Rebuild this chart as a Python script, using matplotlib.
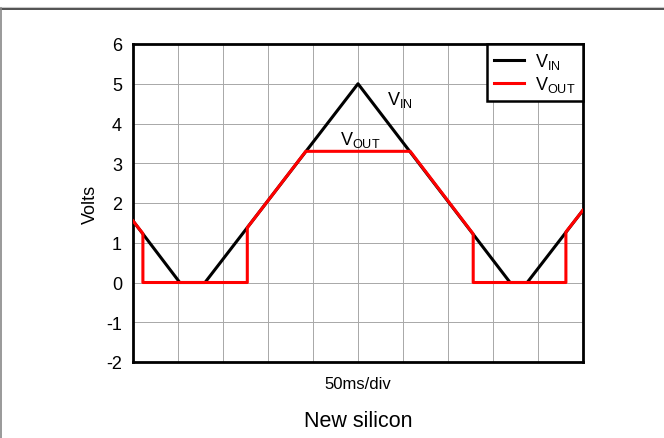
import numpy as np
import matplotlib.pyplot as plt
from matplotlib.lines import Line2D

plt.rcParams['font.family'] = ['Liberation Sans', 'DejaVu Sans']
plt.rcParams['mathtext.fontset'] = 'custom'
plt.rcParams['mathtext.rm'] = 'Liberation Sans'

# time in ms (50 ms / div, 10 divisions)
t_in = [0, 52, 80, 250, 419, 438, 500]
v_in = [1.55, 0, 0, 5.0, 0, 0, 1.82]

t_out = [0, 11, 11, 127, 127, 192, 308, 378, 378, 481, 481, 500]
v_out = [1.55, 1.23, 0, 0, 1.38, 3.3, 3.3, 1.22, 0, 0, 1.27, 1.82]

yticks = [-2, -1, 0, 1, 2, 3, 4, 5, 6]

fig = plt.figure(figsize=(6.64, 4.39), dpi=100)
ax = fig.add_axes([133/664, 1 - 363/439, 450/664, 318/439])

ax.plot(t_in, v_in, color='black', lw=2.2, label=r'$\mathrm{V_{IN}}$', zorder=3)
ax.plot(t_out, v_out, color='#ff0000', lw=2.2, label=r'$\mathrm{V_{OUT}}$', zorder=4)

ax.set_xlim(0, 500)
ax.set_ylim(-2, 6)
ax.set_xticks(np.arange(0, 501, 50))
ax.set_xticklabels([])
ax.set_yticks(yticks)
ax.set_yticklabels([str(v) for v in yticks], fontsize=13)
ax.tick_params(length=0, pad=8)
ax.grid(True, color='#a8a8a8', lw=0.7)
ax.set_axisbelow(True)
for s in ax.spines.values():
    s.set_linewidth(2)
    s.set_color('black')

ax.set_ylabel('Volts', fontsize=13, labelpad=5)
ax.set_xlabel('50ms/div', fontsize=12, labelpad=2)

ax.text(282, 4.62, r'$\mathrm{V_{IN}}$', fontsize=13, ha='left', va='center')
ax.text(230, 3.6, r'$\mathrm{V_{OUT}}$', fontsize=13, ha='left', va='center')

leg = ax.legend(loc='upper right', fontsize=13, frameon=True, fancybox=False,
                framealpha=1, borderaxespad=0, handlelength=1.7, handletextpad=0.6,
                borderpad=0.4, labelspacing=0.15)
leg.get_frame().set_edgecolor('black')
leg.get_frame().set_linewidth(1.8)

fig.text(358/664, 1 - 422/439, 'New silicon', fontsize=15.5, ha='center', va='center')

# page frame lines
fig.add_artist(Line2D([0, 1], [1 - 8/439, 1 - 8/439], color='#c8c8c8', lw=0.8))
fig.add_artist(Line2D([0, 1], [1 - 9.5/439, 1 - 9.5/439], color='#333333', lw=1.2))
fig.add_artist(Line2D([1/664, 1/664], [0, 1 - 9/439], color='#888888', lw=1.2))

fig.savefig('out.png', dpi=100)
